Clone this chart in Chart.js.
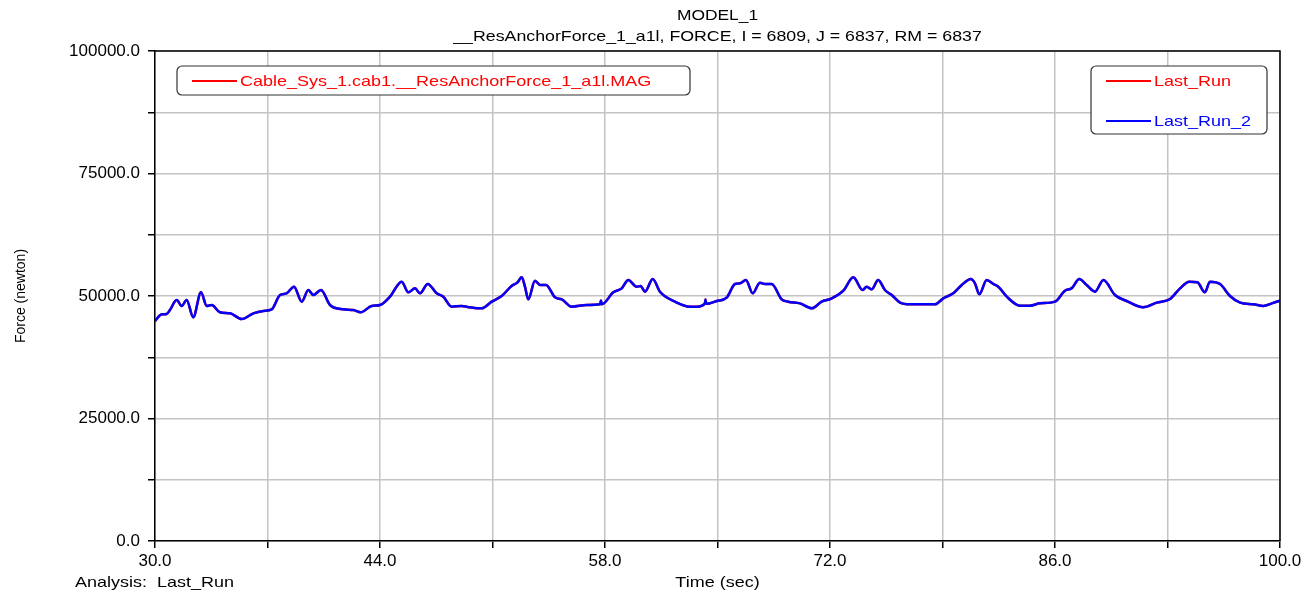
<!DOCTYPE html>
<html>
<head>
<meta charset="utf-8">
<script src="https://cdn.jsdelivr.net/npm/chart.js@4.4.1/dist/chart.umd.min.js"></script>
<style>
  html, body { margin: 0; padding: 0; background: #fff; }
  #wrap { width: 1306px; height: 597px; }
</style>
</head>
<body>
<div id="wrap"><canvas id="chart" width="1306" height="597"></canvas></div>
<script>
// time axis (sec)
const timeSec = [30.00,30.42,30.73,30.93,31.35,31.66,31.97,32.38,32.86,33.22,33.53,34.04,34.67,35.39,36.12,36.74,37.26,37.78,38.19,38.65,39.13,39.54,39.85,40.33,40.89,41.72,42.34,42.80,43.48,44.00,44.62,45.35,45.76,46.18,46.49,46.97,47.53,47.94,48.46,49.08,49.60,50.33,50.95,51.57,52.19,52.54,52.82,53.02,53.23,53.64,53.96,54.33,54.89,55.31,55.93,56.86,57.69,57.75,57.80,58.52,59.04,59.45,59.97,60.22,60.49,60.97,61.42,62.36,63.29,63.71,64.22,64.25,64.30,64.95,65.57,66.09,66.40,66.77,67.19,67.64,67.96,68.37,68.99,69.40,70.13,70.86,71.48,72.11,72.83,73.45,74.03,74.28,74.59,75.00,75.42,75.84,76.36,76.98,78.53,79.05,79.67,80.20,80.76,81.02,81.29,81.75,82.16,82.47,83.00,83.82,84.44,85.07,86.00,86.62,87.04,87.51,87.97,88.49,89.01,89.73,90.46,91.49,92.33,93.16,93.78,94.36,94.86,95.33,95.64,96.27,96.89,97.52,98.35,98.97,99.49,100.00];

// force magnitude (newton), Last_Run_2
const forceRun2 = [44900,46260,46330,47140,49180,47960,49180,45650,50750,47960,48160,46670,46460,45310,46460,46940,47280,50200,50540,51900,48840,51220,50200,51220,48160,47280,47140,46670,47960,48160,49860,52930,50750,51560,50540,52450,50540,49860,47820,47960,47690,47480,48840,50000,52040,52720,53810,51900,49320,53130,52240,52240,49730,49320,47820,48160,48300,49100,48300,50750,51560,53270,51900,52040,50880,53470,50880,48840,47820,47820,48500,49300,48400,48980,49660,52450,52590,53270,50540,52720,52450,52450,49320,48840,48500,47480,48840,49520,51090,53810,51220,51900,51360,53270,51220,50200,48640,48300,48300,49520,50540,52240,53470,52590,50340,53270,52450,51900,49860,48030,48030,48500,48840,51090,51560,53470,52240,50880,53270,50200,48980,47690,48640,49390,51560,52930,52790,50750,52930,52450,50000,48640,48300,47960,48500,49050];

// Last_Run is not visible in the plot: it sits under Last_Run_2
const forceRun1 = forceRun2;

const seriesNames = ["Last_Run", "Last_Run_2"];
const seriesColors = ["#ff0000", "#0000ff"];
const curveName = "Cable_Sys_1.cab1.__ResAnchorForce_1_a1l.MAG";
const titleLines = ["MODEL_1", "__ResAnchorForce_1_a1l, FORCE, I = 6809, J = 6837, RM = 6837"];

const xMin = 30, xMax = 100, xStep = 7, xLabelStep = 14;
const yMin = 0, yMax = 100000, yStep = 12500, yLabelStep = 25000;

const FONT = "'Liberation Sans', Arial, sans-serif";

const toPoints = (ys) => timeSec.map((t, i) => ({ x: t, y: ys[i] }));

// stretched text like the original plot window
function text(ctx, str, x, y, align, color, size) {
  const sx = 1.2;
  ctx.save();
  ctx.font = size + "px " + FONT;
  ctx.fillStyle = color;
  ctx.textBaseline = "middle";
  ctx.textAlign = "left";
  const w = ctx.measureText(str).width * sx;
  let left = x;
  if (align === "center") left = x - w / 2;
  if (align === "right") left = x - w;
  ctx.translate(left, y);
  ctx.scale(sx, 1);
  ctx.fillText(str, 0, 0);
  ctx.restore();
}

function legendBox(ctx, x, y, w, h, rows) {
  ctx.save();
  ctx.beginPath();
  ctx.roundRect(x, y, w, h, 5);
  ctx.fillStyle = "#fff";
  ctx.fill();
  ctx.strokeStyle = "#333";
  ctx.lineWidth = 1.2;
  ctx.stroke();
  rows.forEach((r) => {
    ctx.strokeStyle = r.color;
    ctx.lineWidth = 2;
    ctx.beginPath();
    ctx.moveTo(x + 15, r.y);
    ctx.lineTo(x + 60, r.y);
    ctx.stroke();
    text(ctx, r.label, x + 63, r.y + 1, "left", r.color, 15);
  });
  ctx.restore();
}

const decorations = {
  id: "decorations",
  afterDraw(chart) {
    const { ctx, chartArea: a } = chart;
    ctx.save();
    // top and right frame
    ctx.strokeStyle = "#000";
    ctx.lineWidth = 1.5;
    ctx.beginPath();
    ctx.moveTo(a.left, a.top);
    ctx.lineTo(a.right, a.top);
    ctx.lineTo(a.right, a.bottom);
    ctx.stroke();

    const cx = (a.left + a.right) / 2;
    text(ctx, titleLines[0], cx, 16, "center", "#000", 14.5);
    text(ctx, titleLines[1], cx, 37, "center", "#000", 14.8);
    text(ctx, "Time (sec)", cx, 583, "center", "#000", 15);
    text(ctx, "Analysis:  Last_Run", 75, 583, "left", "#000", 15);

    ctx.save();
    ctx.translate(21, (a.top + a.bottom) / 2);
    ctx.rotate(-Math.PI / 2);
    ctx.font = "14px " + FONT;
    ctx.fillStyle = "#000";
    ctx.textAlign = "center";
    ctx.textBaseline = "middle";
    ctx.fillText("Force (newton)", 0, 0);
    ctx.restore();

    legendBox(ctx, 177, 66, 513, 29, [{ y: 81, color: "#ff0000", label: curveName }]);
    legendBox(ctx, 1091, 66, 176, 68, [
      { y: 81, color: seriesColors[0], label: seriesNames[0] },
      { y: 121, color: seriesColors[1], label: seriesNames[1] },
    ]);
    ctx.restore();
  },
};

new Chart(document.getElementById("chart"), {
  type: "line",
  data: {
    datasets: [
      {
        label: seriesNames[0],
        data: toPoints(forceRun1),
        borderColor: seriesColors[0],
        borderWidth: 2.5,
        pointRadius: 0,
        cubicInterpolationMode: "monotone",
        order: 2,
      },
      {
        label: seriesNames[1],
        data: toPoints(forceRun2),
        borderColor: seriesColors[1],
        borderWidth: 2.5,
        pointRadius: 0,
        cubicInterpolationMode: "monotone",
        order: 1,
      },
    ],
  },
  options: {
    responsive: false,
    animation: false,
    devicePixelRatio: 1,
    layout: { padding: { top: 51, right: 26, left: 0, bottom: 0 } },
    plugins: {
      legend: { display: false },
      tooltip: { enabled: false },
    },
    scales: {
      x: {
        type: "linear",
        min: xMin,
        max: xMax,
        afterFit: (s) => { s.height = 56; },
        afterBuildTicks: (s) => {
          s.ticks = [];
          for (let v = xMin; v <= xMax; v += xStep) s.ticks.push({ value: v });
        },
        ticks: {
          autoSkip: false,
          maxRotation: 0,
          padding: 3,
          color: "#000",
          font: { family: FONT, size: 17 },
          callback: (v) => ((v - xMin) % xLabelStep === 0 ? v.toFixed(1) : ""),
        },
        grid: { color: "#c4c4c4", lineWidth: 1.5, tickLength: 7, tickColor: "#000" },
        border: { display: true, color: "#000", width: 1.5 },
      },
      y: {
        min: yMin,
        max: yMax,
        afterFit: (s) => { s.width = 155; },
        afterBuildTicks: (s) => {
          s.ticks = [];
          for (let v = yMin; v <= yMax; v += yStep) s.ticks.push({ value: v });
        },
        ticks: {
          autoSkip: false,
          padding: 8,
          color: "#000",
          font: { family: FONT, size: 17 },
          callback: (v) => (v % yLabelStep === 0 ? v.toFixed(1) : ""),
        },
        grid: { color: "#c4c4c4", lineWidth: 1.5, tickLength: 7, tickColor: "#000" },
        border: { display: true, color: "#000", width: 1.5 },
      },
    },
  },
  plugins: [decorations],
});
</script>
</body>
</html>
